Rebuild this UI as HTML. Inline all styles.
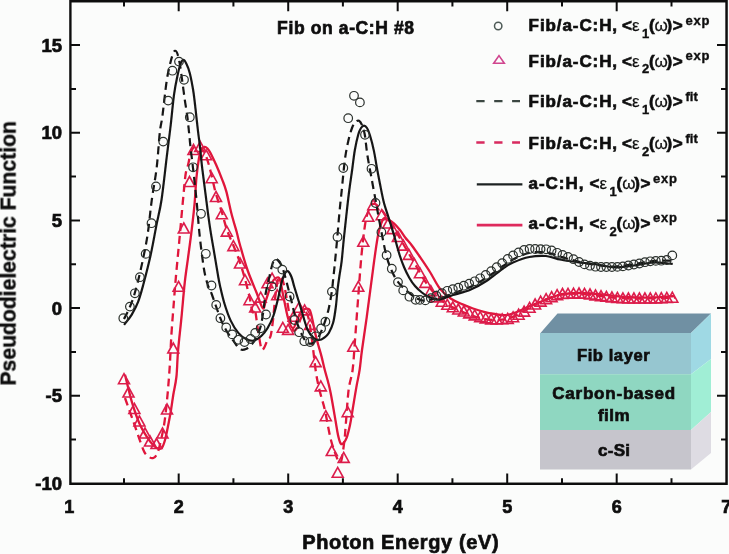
<!DOCTYPE html>
<html><head><meta charset="utf-8"><title>Pseudodielectric Function</title>
<style>html,body{margin:0;padding:0;background:#fbfcfb;overflow:hidden}svg{display:block}</style>
</head><body>
<svg width="729" height="554" viewBox="0 0 729 554">
<rect x="0" y="0" width="729" height="554" fill="#fbfcfb"/>
<defs><filter id="soft" x="-2%" y="-2%" width="104%" height="104%"><feGaussianBlur stdDeviation="0.3"/></filter></defs>
<g filter="url(#soft)">
<polygon points="540.5,333 557.5,313.5 711,313.5 691,333" fill="#7090a3"/>
<rect x="540" y="333" width="151" height="41.2" fill="#96c6d0"/>
<rect x="540" y="374.2" width="151" height="55.8" fill="#8fd7c1"/>
<rect x="540" y="430" width="151" height="39.5" fill="#c6c5cc"/>
<polygon points="691,333 711,313.5 711,359 691,374.2" fill="#9fd9e4"/>
<polygon points="691,374.2 711,359 711,412 691,430" fill="#a0eed5"/>
<polygon points="691,430 711,412 711,453 691,469.5" fill="#dedce3"/>
<text x="577" y="360.6" font-size="16.5" font-weight="bold" text-anchor="start" font-family="'Liberation Sans', Arial, Helvetica, sans-serif" textLength="72.6" lengthAdjust="spacing" fill="#111" stroke="#111" stroke-width="0.7" >Fib layer</text>
<text x="552.2" y="398.8" font-size="17" font-weight="bold" text-anchor="start" font-family="'Liberation Sans', Arial, Helvetica, sans-serif" textLength="123" lengthAdjust="spacing" fill="#111" stroke="#111" stroke-width="0.7" >Carbon-based</text>
<text x="598" y="420.7" font-size="17" font-weight="bold" text-anchor="start" font-family="'Liberation Sans', Arial, Helvetica, sans-serif" textLength="31.5" lengthAdjust="spacing" fill="#111" stroke="#111" stroke-width="0.7" >film</text>
<text x="598" y="456" font-size="17" font-weight="bold" text-anchor="start" font-family="'Liberation Sans', Arial, Helvetica, sans-serif" textLength="32" lengthAdjust="spacing" fill="#111" stroke="#111" stroke-width="0.7" >c-Si</text>
<path d="M125.0,374.7 C126.1,379.1 129.2,393.0 131.7,401.3 C134.2,409.6 136.9,418.0 140.0,424.7 C143.1,431.4 147.2,437.4 150.0,441.3 C152.8,445.2 154.8,446.9 156.7,448.0 C158.6,449.1 160.3,449.3 161.7,448.0 C163.1,446.7 163.9,443.9 165.0,440.0 C166.1,436.1 167.3,429.7 168.3,424.7 C169.3,419.7 170.2,415.0 171.0,410.0 C171.8,405.0 172.4,400.2 173.3,394.7 C174.2,389.2 175.6,384.2 176.4,377.0 C177.2,369.8 177.2,361.2 178.0,351.4 C178.8,341.6 180.3,329.6 181.4,318.2 C182.5,306.8 183.6,293.0 184.7,283.0 C185.8,273.0 186.9,266.4 188.0,258.1 C189.1,249.8 190.2,242.3 191.3,233.2 C192.4,224.1 193.8,212.5 194.6,203.3 C195.4,194.1 195.7,185.6 196.4,178.0 C197.1,170.4 198.2,162.8 199.0,158.0 C199.8,153.2 200.6,151.4 201.5,149.5 C202.4,147.6 203.5,147.0 204.5,146.8 C205.5,146.6 206.5,147.5 207.5,148.5 C208.5,149.5 209.1,150.3 210.5,153.0 C211.9,155.7 214.1,160.3 216.1,164.8 C218.1,169.3 220.7,175.7 222.4,180.1 C224.1,184.5 224.8,185.9 226.3,191.4 C227.8,196.9 229.6,206.2 231.3,213.0 C233.0,219.8 235.2,226.7 236.7,232.0 C238.1,237.3 238.2,238.7 240.0,245.0 C241.8,251.3 244.7,262.0 247.5,270.0 C250.3,278.0 254.1,286.6 256.7,293.0 C259.3,299.4 261.3,307.1 262.9,308.3 C264.4,309.5 264.5,304.2 266.0,300.0 C267.5,295.8 270.1,286.7 271.8,283.0 C273.5,279.3 274.7,278.6 276.0,278.0 C277.3,277.4 278.6,276.4 279.8,279.2 C281.0,282.0 281.7,288.5 283.1,295.0 C284.5,301.5 286.4,312.5 288.0,318.0 C289.6,323.5 291.4,327.9 292.9,328.2 C294.4,328.5 295.6,322.7 297.0,320.0 C298.4,317.3 299.5,313.8 301.0,311.9 C302.5,310.0 304.4,309.0 305.9,308.7 C307.4,308.4 308.7,308.1 309.8,310.0 C310.9,311.9 311.7,316.4 312.5,320.0 C313.3,323.6 313.9,327.5 314.8,331.5 C315.7,335.5 316.9,339.9 318.0,344.0 C319.1,348.1 320.4,352.1 321.5,356.4 C322.6,360.7 323.7,365.7 324.8,370.0 C325.9,374.3 327.1,378.0 328.1,382.0 C329.1,386.0 329.5,387.2 330.8,393.8 C332.1,400.4 334.5,414.8 335.7,421.7 C336.9,428.6 337.2,431.4 338.0,435.0 C338.8,438.6 339.8,442.2 340.7,443.5 C341.6,444.8 342.5,444.0 343.5,443.0 C344.5,442.0 345.6,440.6 346.7,437.6 C347.8,434.6 349.0,429.6 350.0,425.0 C351.0,420.4 351.5,416.2 352.6,409.7 C353.7,403.2 355.4,392.5 356.6,385.9 C357.8,379.3 358.7,376.0 359.6,370.0 C360.5,364.0 360.8,358.8 362.0,350.0 C363.2,341.2 364.8,331.1 366.7,317.3 C368.6,303.5 371.4,281.2 373.3,267.3 C375.2,253.4 376.6,242.1 378.3,234.0 C380.0,225.9 381.7,221.4 383.3,219.0 C384.9,216.6 386.2,218.8 388.0,219.5 C389.8,220.2 391.9,221.6 393.9,223.3 C395.9,225.1 398.1,227.6 400.0,230.0 C401.9,232.4 403.5,235.2 405.4,237.7 C407.3,240.2 409.1,241.8 411.5,245.0 C413.9,248.2 416.9,252.5 420.0,257.0 C423.1,261.5 426.7,266.7 430.0,272.0 C433.3,277.3 436.5,284.4 440.0,288.8 C443.5,293.2 447.3,296.1 451.0,298.7 C454.7,301.2 458.3,302.5 462.0,304.1 C465.7,305.7 469.4,307.2 473.0,308.5 C476.6,309.8 480.2,310.9 483.9,311.8 C487.5,312.7 491.2,313.4 494.9,314.0 C498.6,314.6 502.2,315.4 505.9,315.1 C509.5,314.8 512.8,313.5 516.8,312.0 C520.8,310.5 525.7,307.8 530.0,306.0 C534.3,304.2 537.8,302.8 542.7,301.0 C547.6,299.2 553.2,296.3 559.3,295.0 C565.4,293.7 572.1,293.1 579.3,293.0 C586.5,292.9 594.9,293.8 602.7,294.5 C610.5,295.2 617.7,296.5 626.0,297.0 C634.3,297.5 644.7,297.7 652.7,297.5 C660.8,297.3 670.7,296.2 674.3,296.0" fill="none" stroke="#e0143a" stroke-width="2.3" stroke-linejoin="round"/>
<path d="M125.0,398.0 C126.4,401.9 130.2,412.7 133.3,421.3 C136.4,429.9 140.8,443.8 143.3,449.7 C145.8,455.6 146.8,455.1 148.5,456.5 C150.2,457.9 151.8,458.6 153.3,458.0 C154.8,457.4 156.2,456.0 157.5,453.0 C158.8,450.0 159.8,445.2 161.0,440.0 C162.2,434.8 163.4,429.5 164.5,422.0 C165.6,414.5 166.7,403.7 167.5,395.0 C168.3,386.3 168.8,380.0 169.5,370.0 C170.2,360.0 170.7,346.2 171.4,334.8 C172.1,323.4 173.1,312.2 173.9,301.6 C174.7,291.0 175.4,282.2 176.4,271.4 C177.4,260.5 178.6,248.4 179.7,236.5 C180.8,224.6 182.0,210.2 183.0,200.0 C184.0,189.8 184.7,180.9 185.5,175.0 C186.3,169.1 187.2,168.6 188.1,164.8 C189.0,161.0 189.9,155.0 191.0,152.0 C192.1,149.0 193.5,147.4 194.8,146.6 C196.1,145.8 197.5,146.2 199.0,147.0 C200.5,147.8 202.5,149.0 204.0,151.5 C205.5,154.0 206.7,157.9 208.0,162.0 C209.3,166.1 210.4,170.7 211.7,176.0 C213.0,181.3 214.3,188.0 216.0,194.0 C217.7,200.0 220.0,206.1 221.8,212.0 C223.6,217.9 224.9,223.9 226.8,229.5 C228.7,235.1 231.2,240.0 233.4,245.5 C235.6,251.0 238.1,256.9 240.0,262.5 C241.9,268.1 243.4,273.2 245.0,279.0 C246.6,284.8 248.2,291.5 249.5,297.0 C250.8,302.5 251.6,309.8 252.5,312.0 C253.4,314.2 254.1,307.0 255.0,310.0 C255.9,313.0 256.9,323.6 258.0,330.0 C259.1,336.4 260.3,345.2 261.3,348.2 C262.3,351.2 263.0,349.4 264.0,348.0 C265.0,346.6 266.4,342.0 267.5,340.0 C268.6,338.0 269.7,339.3 270.6,336.0 C271.5,332.7 272.2,326.8 273.0,320.0 C273.8,313.2 274.7,301.7 275.5,295.0 C276.3,288.3 277.1,283.0 278.0,280.0 C278.9,277.0 280.0,276.2 281.0,277.0 C282.0,277.8 283.0,281.2 284.0,285.0 C285.0,288.8 286.0,294.5 287.0,300.0 C288.0,305.5 289.0,313.0 290.0,318.0 C291.0,323.0 291.8,328.3 293.0,330.0 C294.2,331.7 295.7,330.0 297.0,328.0 C298.3,326.0 299.7,320.7 301.0,318.0 C302.3,315.3 303.8,312.0 305.0,312.0 C306.2,312.0 307.3,313.3 308.5,318.0 C309.7,322.7 310.8,331.0 312.0,340.0 C313.2,349.0 314.6,363.3 315.9,372.0 C317.2,380.7 318.5,385.7 320.0,392.0 C321.5,398.3 323.0,401.8 324.8,409.7 C326.6,417.6 328.8,431.6 330.8,439.5 C332.8,447.4 335.3,453.6 336.7,457.4 C338.1,461.1 338.2,461.6 339.0,462.0 C339.8,462.4 340.6,463.7 341.5,460.0 C342.4,456.3 343.8,445.7 344.5,440.0 C345.2,434.3 345.0,434.0 345.7,425.6 C346.4,417.2 347.5,399.2 348.6,389.9 C349.8,380.6 351.5,378.3 352.6,370.0 C353.7,361.7 354.1,351.7 355.0,340.0 C355.9,328.3 356.9,314.2 358.0,300.0 C359.1,285.8 360.3,267.5 361.5,255.0 C362.7,242.5 363.9,232.2 365.0,225.0 C366.1,217.8 366.9,215.3 368.0,212.0 C369.1,208.7 370.3,206.3 371.5,205.0 C372.7,203.7 373.6,203.5 375.0,204.0 C376.4,204.5 378.2,206.0 380.0,208.0 C381.8,210.0 383.5,212.3 386.0,216.0 C388.5,219.7 391.8,224.8 395.0,230.0 C398.2,235.2 401.7,241.3 405.0,247.0 C408.3,252.7 411.7,258.3 415.0,264.0 C418.3,269.7 421.7,276.0 425.0,281.0 C428.3,286.0 431.7,290.3 435.0,294.0 C438.3,297.7 441.7,300.6 445.0,303.0 C448.3,305.4 451.4,306.8 455.0,308.5 C458.6,310.2 462.5,311.9 466.7,313.5 C470.9,315.1 475.6,316.9 480.0,318.0 C484.4,319.1 488.9,319.8 493.3,320.0 C497.8,320.2 502.2,320.1 506.7,319.0 C511.1,317.9 515.6,315.8 520.0,313.5 C524.4,311.2 528.9,307.9 533.3,305.5 C537.7,303.1 541.6,300.9 546.6,299.0 C551.6,297.1 557.7,294.9 563.2,294.0 C568.7,293.1 574.3,293.6 579.8,293.8 C585.3,294.1 590.9,294.9 596.4,295.5 C601.9,296.1 607.5,297.0 613.0,297.5 C618.5,298.0 624.1,298.3 629.6,298.5 C635.1,298.7 638.6,298.7 646.2,298.5 C653.8,298.3 670.2,297.7 675.0,297.5" fill="none" stroke="#e0143a" stroke-width="2.3" stroke-linejoin="round" stroke-dasharray="8,5"/>
<path d="M124.0,373.7 L129.5,383.7 L118.5,383.7 Z" fill="none" stroke="#dc1e4c" stroke-width="1.6" stroke-linejoin="miter"/>
<path d="M128.5,387.0 L134.0,397.0 L123.0,397.0 Z" fill="none" stroke="#dc1e4c" stroke-width="1.6" stroke-linejoin="miter"/>
<path d="M134.4,403.5 L139.9,413.5 L128.9,413.5 Z" fill="none" stroke="#dc1e4c" stroke-width="1.6" stroke-linejoin="miter"/>
<path d="M139.4,416.0 L144.9,426.0 L133.9,426.0 Z" fill="none" stroke="#dc1e4c" stroke-width="1.6" stroke-linejoin="miter"/>
<path d="M145.0,428.0 L150.5,438.0 L139.5,438.0 Z" fill="none" stroke="#dc1e4c" stroke-width="1.6" stroke-linejoin="miter"/>
<path d="M150.0,436.0 L155.5,446.0 L144.5,446.0 Z" fill="none" stroke="#dc1e4c" stroke-width="1.6" stroke-linejoin="miter"/>
<path d="M156.5,438.5 L162.0,448.5 L151.0,448.5 Z" fill="none" stroke="#dc1e4c" stroke-width="1.6" stroke-linejoin="miter"/>
<path d="M162.5,428.0 L168.0,438.0 L157.0,438.0 Z" fill="none" stroke="#dc1e4c" stroke-width="1.6" stroke-linejoin="miter"/>
<path d="M167.0,404.0 L172.5,414.0 L161.5,414.0 Z" fill="none" stroke="#dc1e4c" stroke-width="1.6" stroke-linejoin="miter"/>
<path d="M173.3,343.0 L178.8,353.0 L167.8,353.0 Z" fill="none" stroke="#dc1e4c" stroke-width="1.6" stroke-linejoin="miter"/>
<path d="M178.6,281.3 L184.1,291.3 L173.1,291.3 Z" fill="none" stroke="#dc1e4c" stroke-width="1.6" stroke-linejoin="miter"/>
<path d="M183.8,223.0 L189.3,233.0 L178.3,233.0 Z" fill="none" stroke="#dc1e4c" stroke-width="1.6" stroke-linejoin="miter"/>
<path d="M189.5,176.5 L195.0,186.5 L184.0,186.5 Z" fill="none" stroke="#dc1e4c" stroke-width="1.6" stroke-linejoin="miter"/>
<path d="M193.5,144.5 L199.0,154.5 L188.0,154.5 Z" fill="none" stroke="#dc1e4c" stroke-width="1.6" stroke-linejoin="miter"/>
<path d="M200.2,141.5 L205.7,151.5 L194.7,151.5 Z" fill="none" stroke="#dc1e4c" stroke-width="1.6" stroke-linejoin="miter"/>
<path d="M206.2,149.8 L211.7,159.8 L200.7,159.8 Z" fill="none" stroke="#dc1e4c" stroke-width="1.6" stroke-linejoin="miter"/>
<path d="M211.7,172.7 L217.2,182.7 L206.2,182.7 Z" fill="none" stroke="#dc1e4c" stroke-width="1.6" stroke-linejoin="miter"/>
<path d="M216.0,191.5 L221.5,201.5 L210.5,201.5 Z" fill="none" stroke="#dc1e4c" stroke-width="1.6" stroke-linejoin="miter"/>
<path d="M221.8,208.8 L227.3,218.8 L216.3,218.8 Z" fill="none" stroke="#dc1e4c" stroke-width="1.6" stroke-linejoin="miter"/>
<path d="M226.8,226.1 L232.3,236.1 L221.3,236.1 Z" fill="none" stroke="#dc1e4c" stroke-width="1.6" stroke-linejoin="miter"/>
<path d="M233.4,240.6 L238.9,250.6 L227.9,250.6 Z" fill="none" stroke="#dc1e4c" stroke-width="1.6" stroke-linejoin="miter"/>
<path d="M240.0,258.0 L245.5,268.0 L234.5,268.0 Z" fill="none" stroke="#dc1e4c" stroke-width="1.6" stroke-linejoin="miter"/>
<path d="M245.0,274.7 L250.5,284.7 L239.5,284.7 Z" fill="none" stroke="#dc1e4c" stroke-width="1.6" stroke-linejoin="miter"/>
<path d="M249.5,294.7 L255.0,304.7 L244.0,304.7 Z" fill="none" stroke="#dc1e4c" stroke-width="1.6" stroke-linejoin="miter"/>
<path d="M255.2,302.0 L260.7,312.0 L249.7,312.0 Z" fill="none" stroke="#dc1e4c" stroke-width="1.6" stroke-linejoin="miter"/>
<path d="M260.7,292.1 L266.2,302.1 L255.2,302.1 Z" fill="none" stroke="#dc1e4c" stroke-width="1.6" stroke-linejoin="miter"/>
<path d="M267.5,277.8 L273.0,287.8 L262.0,287.8 Z" fill="none" stroke="#dc1e4c" stroke-width="1.6" stroke-linejoin="miter"/>
<path d="M272.1,273.2 L277.6,283.2 L266.6,283.2 Z" fill="none" stroke="#dc1e4c" stroke-width="1.6" stroke-linejoin="miter"/>
<path d="M277.2,289.7 L282.7,299.7 L271.7,299.7 Z" fill="none" stroke="#dc1e4c" stroke-width="1.6" stroke-linejoin="miter"/>
<path d="M282.8,322.3 L288.3,332.3 L277.3,332.3 Z" fill="none" stroke="#dc1e4c" stroke-width="1.6" stroke-linejoin="miter"/>
<path d="M288.1,324.4 L293.6,334.4 L282.6,334.4 Z" fill="none" stroke="#dc1e4c" stroke-width="1.6" stroke-linejoin="miter"/>
<path d="M293.6,311.2 L299.1,321.2 L288.1,321.2 Z" fill="none" stroke="#dc1e4c" stroke-width="1.6" stroke-linejoin="miter"/>
<path d="M299.1,302.2 L304.6,312.2 L293.6,312.2 Z" fill="none" stroke="#dc1e4c" stroke-width="1.6" stroke-linejoin="miter"/>
<path d="M304.6,304.9 L310.1,314.9 L299.1,314.9 Z" fill="none" stroke="#dc1e4c" stroke-width="1.6" stroke-linejoin="miter"/>
<path d="M310.1,319.4 L315.6,329.4 L304.6,329.4 Z" fill="none" stroke="#dc1e4c" stroke-width="1.6" stroke-linejoin="miter"/>
<path d="M315.6,356.6 L321.1,366.6 L310.1,366.6 Z" fill="none" stroke="#dc1e4c" stroke-width="1.6" stroke-linejoin="miter"/>
<path d="M320.8,380.9 L326.3,390.9 L315.3,390.9 Z" fill="none" stroke="#dc1e4c" stroke-width="1.6" stroke-linejoin="miter"/>
<path d="M325.8,410.7 L331.3,420.7 L320.3,420.7 Z" fill="none" stroke="#dc1e4c" stroke-width="1.6" stroke-linejoin="miter"/>
<path d="M331.8,445.5 L337.3,455.5 L326.3,455.5 Z" fill="none" stroke="#dc1e4c" stroke-width="1.6" stroke-linejoin="miter"/>
<path d="M337.7,467.3 L343.2,477.3 L332.2,477.3 Z" fill="none" stroke="#dc1e4c" stroke-width="1.6" stroke-linejoin="miter"/>
<path d="M343.7,452.4 L349.2,462.4 L338.2,462.4 Z" fill="none" stroke="#dc1e4c" stroke-width="1.6" stroke-linejoin="miter"/>
<path d="M347.7,406.7 L353.2,416.7 L342.2,416.7 Z" fill="none" stroke="#dc1e4c" stroke-width="1.6" stroke-linejoin="miter"/>
<path d="M353.3,341.3 L358.8,351.3 L347.8,351.3 Z" fill="none" stroke="#dc1e4c" stroke-width="1.6" stroke-linejoin="miter"/>
<path d="M358.3,281.3 L363.8,291.3 L352.8,291.3 Z" fill="none" stroke="#dc1e4c" stroke-width="1.6" stroke-linejoin="miter"/>
<path d="M363.3,236.3 L368.8,246.3 L357.8,246.3 Z" fill="none" stroke="#dc1e4c" stroke-width="1.6" stroke-linejoin="miter"/>
<path d="M368.3,211.3 L373.8,221.3 L362.8,221.3 Z" fill="none" stroke="#dc1e4c" stroke-width="1.6" stroke-linejoin="miter"/>
<path d="M373.3,199.7 L378.8,209.7 L367.8,209.7 Z" fill="none" stroke="#dc1e4c" stroke-width="1.6" stroke-linejoin="miter"/>
<path d="M381.7,209.7 L387.2,219.7 L376.2,219.7 Z" fill="none" stroke="#dc1e4c" stroke-width="1.6" stroke-linejoin="miter"/>
<path d="M388.3,218.0 L393.8,228.0 L382.8,228.0 Z" fill="none" stroke="#dc1e4c" stroke-width="1.6" stroke-linejoin="miter"/>
<path d="M392.4,223.6 L397.9,233.6 L386.9,233.6 Z" fill="none" stroke="#dc1e4c" stroke-width="1.6" stroke-linejoin="miter"/>
<path d="M397.9,231.5 L403.4,241.5 L392.4,241.5 Z" fill="none" stroke="#dc1e4c" stroke-width="1.6" stroke-linejoin="miter"/>
<path d="M403.4,240.1 L408.9,250.1 L397.9,250.1 Z" fill="none" stroke="#dc1e4c" stroke-width="1.6" stroke-linejoin="miter"/>
<path d="M408.9,249.4 L414.4,259.4 L403.4,259.4 Z" fill="none" stroke="#dc1e4c" stroke-width="1.6" stroke-linejoin="miter"/>
<path d="M414.4,258.6 L419.9,268.6 L408.9,268.6 Z" fill="none" stroke="#dc1e4c" stroke-width="1.6" stroke-linejoin="miter"/>
<path d="M419.9,267.8 L425.4,277.8 L414.4,277.8 Z" fill="none" stroke="#dc1e4c" stroke-width="1.6" stroke-linejoin="miter"/>
<path d="M425.3,277.4 L430.8,287.4 L419.8,287.4 Z" fill="none" stroke="#dc1e4c" stroke-width="1.6" stroke-linejoin="miter"/>
<path d="M430.8,285.7 L436.3,295.7 L425.3,295.7 Z" fill="none" stroke="#dc1e4c" stroke-width="1.6" stroke-linejoin="miter"/>
<path d="M436.3,291.9 L441.8,301.9 L430.8,301.9 Z" fill="none" stroke="#dc1e4c" stroke-width="1.6" stroke-linejoin="miter"/>
<path d="M441.8,296.2 L447.3,306.2 L436.3,306.2 Z" fill="none" stroke="#dc1e4c" stroke-width="1.6" stroke-linejoin="miter"/>
<path d="M447.3,299.3 L452.8,309.3 L441.8,309.3 Z" fill="none" stroke="#dc1e4c" stroke-width="1.6" stroke-linejoin="miter"/>
<path d="M452.8,301.8 L458.3,311.8 L447.3,311.8 Z" fill="none" stroke="#dc1e4c" stroke-width="1.6" stroke-linejoin="miter"/>
<path d="M458.3,304.0 L463.8,314.0 L452.8,314.0 Z" fill="none" stroke="#dc1e4c" stroke-width="1.6" stroke-linejoin="miter"/>
<path d="M463.8,306.0 L469.3,316.0 L458.3,316.0 Z" fill="none" stroke="#dc1e4c" stroke-width="1.6" stroke-linejoin="miter"/>
<path d="M469.2,307.9 L474.7,317.9 L463.7,317.9 Z" fill="none" stroke="#dc1e4c" stroke-width="1.6" stroke-linejoin="miter"/>
<path d="M474.7,309.9 L480.2,319.9 L469.2,319.9 Z" fill="none" stroke="#dc1e4c" stroke-width="1.6" stroke-linejoin="miter"/>
<path d="M480.2,311.6 L485.7,321.6 L474.7,321.6 Z" fill="none" stroke="#dc1e4c" stroke-width="1.6" stroke-linejoin="miter"/>
<path d="M485.7,312.9 L491.2,322.9 L480.2,322.9 Z" fill="none" stroke="#dc1e4c" stroke-width="1.6" stroke-linejoin="miter"/>
<path d="M491.2,313.9 L496.7,323.9 L485.7,323.9 Z" fill="none" stroke="#dc1e4c" stroke-width="1.6" stroke-linejoin="miter"/>
<path d="M496.7,314.0 L502.2,324.0 L491.2,324.0 Z" fill="none" stroke="#dc1e4c" stroke-width="1.6" stroke-linejoin="miter"/>
<path d="M502.2,313.8 L507.7,323.8 L496.7,323.8 Z" fill="none" stroke="#dc1e4c" stroke-width="1.6" stroke-linejoin="miter"/>
<path d="M507.7,313.4 L513.2,323.4 L502.2,323.4 Z" fill="none" stroke="#dc1e4c" stroke-width="1.6" stroke-linejoin="miter"/>
<path d="M513.1,311.8 L518.6,321.8 L507.6,321.8 Z" fill="none" stroke="#dc1e4c" stroke-width="1.6" stroke-linejoin="miter"/>
<path d="M518.6,309.2 L524.1,319.2 L513.1,319.2 Z" fill="none" stroke="#dc1e4c" stroke-width="1.6" stroke-linejoin="miter"/>
<path d="M524.1,306.1 L529.6,316.1 L518.6,316.1 Z" fill="none" stroke="#dc1e4c" stroke-width="1.6" stroke-linejoin="miter"/>
<path d="M529.6,302.3 L535.1,312.3 L524.1,312.3 Z" fill="none" stroke="#dc1e4c" stroke-width="1.6" stroke-linejoin="miter"/>
<path d="M535.1,299.0 L540.6,309.0 L529.6,309.0 Z" fill="none" stroke="#dc1e4c" stroke-width="1.6" stroke-linejoin="miter"/>
<path d="M540.6,296.1 L546.1,306.1 L535.1,306.1 Z" fill="none" stroke="#dc1e4c" stroke-width="1.6" stroke-linejoin="miter"/>
<path d="M546.1,293.7 L551.6,303.7 L540.6,303.7 Z" fill="none" stroke="#dc1e4c" stroke-width="1.6" stroke-linejoin="miter"/>
<path d="M551.6,291.6 L557.1,301.6 L546.1,301.6 Z" fill="none" stroke="#dc1e4c" stroke-width="1.6" stroke-linejoin="miter"/>
<path d="M557.1,289.6 L562.6,299.6 L551.6,299.6 Z" fill="none" stroke="#dc1e4c" stroke-width="1.6" stroke-linejoin="miter"/>
<path d="M562.5,288.5 L568.0,298.5 L557.0,298.5 Z" fill="none" stroke="#dc1e4c" stroke-width="1.6" stroke-linejoin="miter"/>
<path d="M568.0,288.3 L573.5,298.3 L562.5,298.3 Z" fill="none" stroke="#dc1e4c" stroke-width="1.6" stroke-linejoin="miter"/>
<path d="M573.5,288.1 L579.0,298.1 L568.0,298.1 Z" fill="none" stroke="#dc1e4c" stroke-width="1.6" stroke-linejoin="miter"/>
<path d="M579.0,288.0 L584.5,298.0 L573.5,298.0 Z" fill="none" stroke="#dc1e4c" stroke-width="1.6" stroke-linejoin="miter"/>
<path d="M584.5,288.3 L590.0,298.3 L579.0,298.3 Z" fill="none" stroke="#dc1e4c" stroke-width="1.6" stroke-linejoin="miter"/>
<path d="M590.0,289.0 L595.5,299.0 L584.5,299.0 Z" fill="none" stroke="#dc1e4c" stroke-width="1.6" stroke-linejoin="miter"/>
<path d="M595.5,289.9 L601.0,299.9 L590.0,299.9 Z" fill="none" stroke="#dc1e4c" stroke-width="1.6" stroke-linejoin="miter"/>
<path d="M601.0,290.6 L606.5,300.6 L595.5,300.6 Z" fill="none" stroke="#dc1e4c" stroke-width="1.6" stroke-linejoin="miter"/>
<path d="M606.4,291.3 L611.9,301.3 L600.9,301.3 Z" fill="none" stroke="#dc1e4c" stroke-width="1.6" stroke-linejoin="miter"/>
<path d="M611.9,291.9 L617.4,301.9 L606.4,301.9 Z" fill="none" stroke="#dc1e4c" stroke-width="1.6" stroke-linejoin="miter"/>
<path d="M617.4,292.4 L622.9,302.4 L611.9,302.4 Z" fill="none" stroke="#dc1e4c" stroke-width="1.6" stroke-linejoin="miter"/>
<path d="M622.9,292.8 L628.4,302.8 L617.4,302.8 Z" fill="none" stroke="#dc1e4c" stroke-width="1.6" stroke-linejoin="miter"/>
<path d="M628.4,293.0 L633.9,303.0 L622.9,303.0 Z" fill="none" stroke="#dc1e4c" stroke-width="1.6" stroke-linejoin="miter"/>
<path d="M633.9,293.0 L639.4,303.0 L628.4,303.0 Z" fill="none" stroke="#dc1e4c" stroke-width="1.6" stroke-linejoin="miter"/>
<path d="M639.4,293.0 L644.9,303.0 L633.9,303.0 Z" fill="none" stroke="#dc1e4c" stroke-width="1.6" stroke-linejoin="miter"/>
<path d="M644.9,293.0 L650.4,303.0 L639.4,303.0 Z" fill="none" stroke="#dc1e4c" stroke-width="1.6" stroke-linejoin="miter"/>
<path d="M650.3,293.0 L655.8,303.0 L644.8,303.0 Z" fill="none" stroke="#dc1e4c" stroke-width="1.6" stroke-linejoin="miter"/>
<path d="M655.8,292.9 L661.3,302.9 L650.3,302.9 Z" fill="none" stroke="#dc1e4c" stroke-width="1.6" stroke-linejoin="miter"/>
<path d="M661.3,292.7 L666.8,302.7 L655.8,302.7 Z" fill="none" stroke="#dc1e4c" stroke-width="1.6" stroke-linejoin="miter"/>
<path d="M666.8,292.4 L672.3,302.4 L661.3,302.4 Z" fill="none" stroke="#dc1e4c" stroke-width="1.6" stroke-linejoin="miter"/>
<path d="M672.3,292.2 L677.8,302.2 L666.8,302.2 Z" fill="none" stroke="#dc1e4c" stroke-width="1.6" stroke-linejoin="miter"/>
<path d="M124.1,324.8 C125.3,323.1 129.2,318.8 131.6,314.9 C133.9,311.0 136.3,306.6 138.2,301.6 C140.1,296.6 141.1,292.8 143.2,285.0 C145.3,277.2 148.5,264.8 150.7,254.8 C152.9,244.8 154.7,234.0 156.5,224.9 C158.3,215.8 159.8,211.1 161.5,200.0 C163.2,188.9 165.1,170.7 166.6,158.2 C168.1,145.7 169.5,135.6 170.7,125.0 C171.9,114.4 172.9,102.9 174.0,94.8 C175.1,86.7 176.2,81.6 177.3,76.5 C178.4,71.4 179.5,66.8 180.5,64.0 C181.5,61.2 182.5,59.9 183.5,59.9 C184.5,59.9 185.4,61.8 186.5,64.0 C187.6,66.2 188.7,68.9 189.8,73.2 C190.9,77.5 192.1,83.7 193.1,89.8 C194.1,95.9 194.8,102.7 195.6,109.7 C196.4,116.7 197.4,126.1 198.1,132.0 C198.8,137.9 199.1,138.9 199.8,144.9 C200.5,150.9 201.2,159.9 202.2,168.2 C203.2,176.5 204.4,185.2 205.6,194.7 C206.8,204.1 208.2,215.7 209.6,224.9 C210.9,234.1 212.3,241.5 213.7,249.8 C215.1,258.1 216.9,268.8 217.9,274.7 C218.9,280.6 218.8,280.5 219.9,285.3 C221.0,290.1 222.7,297.8 224.5,303.7 C226.3,309.6 228.4,315.7 230.7,320.6 C233.0,325.5 235.8,329.8 238.3,332.9 C240.9,336.0 243.4,337.7 246.0,339.0 C248.6,340.3 251.1,341.1 253.7,340.6 C256.2,340.1 259.0,338.1 261.3,336.0 C263.6,333.9 265.5,331.7 267.5,328.3 C269.5,324.9 271.7,320.6 273.5,315.5 C275.3,310.4 276.9,303.4 278.2,298.0 C279.5,292.6 280.4,287.0 281.5,283.0 C282.6,279.0 283.4,275.9 284.5,274.0 C285.6,272.1 286.8,270.8 288.0,271.3 C289.2,271.8 290.4,274.3 291.5,277.0 C292.6,279.7 292.9,282.2 294.5,287.5 C296.1,292.8 298.8,301.7 301.0,308.7 C303.2,315.7 305.3,324.6 307.5,329.5 C309.7,334.4 312.1,336.6 314.0,338.3 C315.9,340.1 317.3,340.1 319.0,340.0 C320.7,339.9 322.4,339.0 324.0,337.8 C325.6,336.6 327.3,335.6 328.8,333.0 C330.3,330.4 332.0,326.9 333.2,322.5 C334.4,318.1 335.2,311.7 335.9,306.3 C336.6,300.9 336.9,295.1 337.5,290.0 C338.1,284.9 338.7,280.7 339.4,276.0 C340.1,271.3 340.9,267.7 341.6,261.7 C342.3,255.7 342.9,247.9 343.7,240.0 C344.5,232.1 345.6,222.3 346.5,214.0 C347.4,205.7 348.3,197.7 349.3,190.0 C350.3,182.3 351.5,174.7 352.4,168.0 C353.3,161.3 353.9,155.2 354.9,149.7 C355.9,144.2 357.2,138.4 358.2,134.8 C359.2,131.2 360.0,129.5 361.0,128.0 C362.0,126.5 363.0,125.6 364.0,125.6 C365.0,125.6 366.0,126.5 367.0,128.0 C368.0,129.5 368.6,130.9 369.8,134.8 C371.0,138.7 372.8,145.5 374.0,151.4 C375.2,157.3 376.3,164.6 377.3,170.0 C378.3,175.4 378.9,178.5 380.0,184.0 C381.1,189.5 382.6,197.7 384.0,203.0 C385.4,208.3 386.5,210.8 388.1,216.1 C389.8,221.4 392.0,228.3 393.9,234.8 C395.8,241.3 397.9,249.6 399.6,255.0 C401.3,260.4 402.4,263.2 404.0,267.0 C405.6,270.8 407.6,274.8 409.4,278.0 C411.2,281.2 412.9,283.6 415.0,286.0 C417.1,288.4 419.7,290.8 421.9,292.5 C424.1,294.2 425.9,295.5 428.0,296.5 C430.1,297.5 432.3,298.2 434.3,298.7 C436.3,299.2 436.9,300.1 440.0,299.5 C443.1,298.9 448.0,296.6 453.0,295.0 C458.0,293.4 464.2,292.3 469.8,290.0 C475.4,287.7 480.9,284.6 486.4,281.0 C491.9,277.4 498.6,271.6 503.0,268.5 C507.4,265.4 508.6,264.4 513.0,262.5 C517.4,260.6 523.9,258.1 529.4,257.0 C534.9,255.9 540.9,255.6 546.0,256.0 C551.1,256.4 555.7,258.6 560.0,259.5 C564.3,260.4 567.8,260.9 572.0,261.5 C576.2,262.1 580.3,262.4 585.0,263.0 C589.7,263.6 595.0,264.2 600.0,265.0 C605.0,265.8 609.3,267.4 615.0,267.5 C620.7,267.6 627.7,266.3 634.0,265.5 C640.3,264.7 647.3,262.8 653.0,262.5 C658.7,262.2 664.7,263.2 668.0,263.5 C671.3,263.8 671.9,263.9 672.7,264.0" fill="none" stroke="#161616" stroke-width="2.2" stroke-linejoin="round"/>
<path d="M124.0,319.0 C124.8,317.3 127.2,313.2 129.0,309.0 C130.8,304.8 132.6,300.6 134.5,294.0 C136.4,287.4 138.6,279.3 140.7,269.7 C142.8,260.1 145.5,247.9 147.3,236.5 C149.1,225.1 150.1,212.7 151.6,201.3 C153.1,189.9 155.2,179.8 156.6,168.2 C158.0,156.6 158.9,140.2 159.9,131.6 C160.9,122.9 161.3,124.6 162.4,116.3 C163.5,108.0 165.3,90.1 166.6,81.5 C167.8,72.9 168.9,69.3 169.9,64.9 C170.9,60.5 171.7,57.4 172.5,55.0 C173.3,52.6 174.1,51.0 174.9,50.8 C175.7,50.6 176.7,51.6 177.5,54.0 C178.3,56.4 179.2,60.4 180.0,65.0 C180.8,69.6 181.5,75.7 182.3,81.5 C183.1,87.3 184.0,94.0 184.8,99.8 C185.6,105.6 186.6,110.9 187.3,116.3 C188.0,121.7 188.4,126.4 189.0,132.0 C189.6,137.6 190.1,144.0 190.8,150.0 C191.5,156.0 192.1,159.7 193.0,168.0 C193.9,176.3 195.4,188.8 196.5,200.0 C197.6,211.2 198.4,223.6 199.6,234.9 C200.8,246.2 202.5,259.8 203.8,268.0 C205.1,276.2 206.2,279.7 207.5,284.0 C208.8,288.3 209.6,288.4 211.7,294.0 C213.8,299.6 217.6,311.3 220.0,317.3 C222.4,323.3 223.8,326.1 226.0,330.0 C228.2,333.9 231.0,337.5 233.3,340.7 C235.6,343.9 237.8,347.6 239.9,349.0 C242.0,350.4 244.0,349.8 246.0,349.0 C248.0,348.2 250.2,346.0 252.0,344.0 C253.8,342.0 255.1,339.9 256.5,337.0 C257.9,334.1 259.5,330.8 260.7,326.3 C261.9,321.8 262.7,315.5 263.5,310.0 C264.3,304.5 264.6,299.1 265.7,293.2 C266.8,287.3 268.7,279.8 269.8,274.9 C270.9,270.0 271.6,266.6 272.5,264.0 C273.4,261.4 274.0,259.6 275.0,259.1 C276.0,258.6 277.1,259.2 278.5,261.0 C279.9,262.8 281.1,263.6 283.1,269.6 C285.1,275.7 288.3,288.9 290.5,297.3 C292.7,305.7 294.1,313.5 296.1,320.0 C298.1,326.5 300.8,332.5 302.7,336.3 C304.6,340.1 305.8,341.7 307.5,342.8 C309.2,343.9 311.2,344.0 313.0,343.0 C314.8,342.0 316.7,340.0 318.5,337.0 C320.3,334.0 322.1,329.6 323.8,324.9 C325.5,320.2 327.4,314.4 328.7,308.7 C330.0,303.0 331.1,296.2 331.9,290.8 C332.7,285.4 332.9,281.2 333.5,276.1 C334.1,271.0 334.6,266.4 335.2,259.9 C335.8,253.4 336.6,245.3 337.3,237.3 C338.0,229.3 338.8,219.8 339.5,212.0 C340.2,204.2 340.8,199.4 341.7,190.7 C342.6,182.0 343.8,167.9 344.9,159.7 C346.0,151.5 347.0,146.7 348.2,141.4 C349.4,136.1 350.8,131.2 352.0,128.0 C353.2,124.8 354.3,123.2 355.5,122.0 C356.7,120.8 357.9,120.2 359.0,120.7 C360.1,121.2 361.0,122.7 362.0,125.0 C363.0,127.3 363.9,129.9 364.8,134.8 C365.7,139.8 366.2,147.5 367.3,154.7 C368.4,161.9 370.1,170.1 371.5,178.0 C372.9,185.9 374.7,195.2 376.0,202.3 C377.3,209.4 377.6,212.1 379.3,220.7 C381.0,229.3 383.9,245.7 386.0,254.0 C388.1,262.3 389.6,266.0 391.7,270.7 C393.8,275.4 395.8,279.0 398.3,282.3 C400.8,285.6 403.9,288.2 406.7,290.7 C409.5,293.2 412.2,295.6 415.0,297.3 C417.8,299.0 420.2,300.4 423.3,300.7 C426.4,301.0 430.5,299.4 433.3,299.0 C436.1,298.6 436.7,299.4 440.0,298.5 C443.3,297.6 448.0,295.4 453.0,293.5 C458.0,291.6 464.5,289.6 470.0,287.0 C475.5,284.4 480.5,281.5 486.0,278.0 C491.5,274.5 498.5,269.1 503.0,266.0 C507.5,262.9 508.7,261.7 513.0,259.5 C517.3,257.3 523.5,254.2 529.0,253.0 C534.5,251.8 540.8,251.9 546.0,252.5 C551.2,253.1 555.7,255.2 560.0,256.5 C564.3,257.8 567.8,258.9 572.0,260.0 C576.2,261.1 580.3,262.1 585.0,263.0 C589.7,263.9 595.0,264.9 600.0,265.5 C605.0,266.1 609.3,266.8 615.0,266.5 C620.7,266.2 627.7,264.9 634.0,264.0 C640.3,263.1 646.5,261.6 653.0,261.0 C659.5,260.4 669.4,260.6 672.7,260.5" fill="none" stroke="#161616" stroke-width="2.2" stroke-linejoin="round" stroke-dasharray="8,5"/>
<circle cx="123.3" cy="318.2" r="4.3" fill="none" stroke="#2a302c" stroke-width="1.2"/>
<circle cx="129.9" cy="306.6" r="4.3" fill="none" stroke="#2a302c" stroke-width="1.2"/>
<circle cx="134.9" cy="293.3" r="4.3" fill="none" stroke="#2a302c" stroke-width="1.2"/>
<circle cx="139.9" cy="277.2" r="4.3" fill="none" stroke="#2a302c" stroke-width="1.2"/>
<circle cx="145.7" cy="253.9" r="4.3" fill="none" stroke="#2a302c" stroke-width="1.2"/>
<circle cx="151.5" cy="223.2" r="4.3" fill="none" stroke="#2a302c" stroke-width="1.2"/>
<circle cx="156.0" cy="186.5" r="4.3" fill="none" stroke="#2a302c" stroke-width="1.2"/>
<circle cx="163.2" cy="141.6" r="4.3" fill="none" stroke="#2a302c" stroke-width="1.2"/>
<circle cx="168.2" cy="100.6" r="4.3" fill="none" stroke="#2a302c" stroke-width="1.2"/>
<circle cx="172.4" cy="70.7" r="4.3" fill="none" stroke="#2a302c" stroke-width="1.2"/>
<circle cx="179.0" cy="61.6" r="4.3" fill="none" stroke="#2a302c" stroke-width="1.2"/>
<circle cx="184.0" cy="79.8" r="4.3" fill="none" stroke="#2a302c" stroke-width="1.2"/>
<circle cx="189.8" cy="117.2" r="4.3" fill="none" stroke="#2a302c" stroke-width="1.2"/>
<circle cx="193.1" cy="167.3" r="4.3" fill="none" stroke="#2a302c" stroke-width="1.2"/>
<circle cx="201.0" cy="213.8" r="4.3" fill="none" stroke="#2a302c" stroke-width="1.2"/>
<circle cx="205.8" cy="253.8" r="4.3" fill="none" stroke="#2a302c" stroke-width="1.2"/>
<circle cx="211.5" cy="285.5" r="4.3" fill="none" stroke="#2a302c" stroke-width="1.2"/>
<circle cx="216.2" cy="304.9" r="4.3" fill="none" stroke="#2a302c" stroke-width="1.2"/>
<circle cx="220.4" cy="318.2" r="4.3" fill="none" stroke="#2a302c" stroke-width="1.2"/>
<circle cx="226.2" cy="327.5" r="4.3" fill="none" stroke="#2a302c" stroke-width="1.2"/>
<circle cx="232.2" cy="334.4" r="4.3" fill="none" stroke="#2a302c" stroke-width="1.2"/>
<circle cx="238.3" cy="339.8" r="4.3" fill="none" stroke="#2a302c" stroke-width="1.2"/>
<circle cx="244.5" cy="342.1" r="4.3" fill="none" stroke="#2a302c" stroke-width="1.2"/>
<circle cx="250.6" cy="339.0" r="4.3" fill="none" stroke="#2a302c" stroke-width="1.2"/>
<circle cx="255.2" cy="332.9" r="4.3" fill="none" stroke="#2a302c" stroke-width="1.2"/>
<circle cx="260.6" cy="328.3" r="4.3" fill="none" stroke="#2a302c" stroke-width="1.2"/>
<circle cx="266.0" cy="314.5" r="4.3" fill="none" stroke="#2a302c" stroke-width="1.2"/>
<circle cx="271.7" cy="286.4" r="4.3" fill="none" stroke="#2a302c" stroke-width="1.2"/>
<circle cx="276.6" cy="263.9" r="4.3" fill="none" stroke="#2a302c" stroke-width="1.2"/>
<circle cx="282.3" cy="269.6" r="4.3" fill="none" stroke="#2a302c" stroke-width="1.2"/>
<circle cx="289.6" cy="296.5" r="4.3" fill="none" stroke="#2a302c" stroke-width="1.2"/>
<circle cx="294.5" cy="320.0" r="4.3" fill="none" stroke="#2a302c" stroke-width="1.2"/>
<circle cx="299.1" cy="332.2" r="4.3" fill="none" stroke="#2a302c" stroke-width="1.2"/>
<circle cx="304.3" cy="341.2" r="4.3" fill="none" stroke="#2a302c" stroke-width="1.2"/>
<circle cx="310.1" cy="342.0" r="4.3" fill="none" stroke="#2a302c" stroke-width="1.2"/>
<circle cx="315.6" cy="336.3" r="4.3" fill="none" stroke="#2a302c" stroke-width="1.2"/>
<circle cx="321.1" cy="328.5" r="4.3" fill="none" stroke="#2a302c" stroke-width="1.2"/>
<circle cx="325.4" cy="321.7" r="4.3" fill="none" stroke="#2a302c" stroke-width="1.2"/>
<circle cx="331.9" cy="291.6" r="4.3" fill="none" stroke="#2a302c" stroke-width="1.2"/>
<circle cx="337.5" cy="237.0" r="4.3" fill="none" stroke="#2a302c" stroke-width="1.2"/>
<circle cx="343.3" cy="168.0" r="4.3" fill="none" stroke="#2a302c" stroke-width="1.2"/>
<circle cx="348.2" cy="118.2" r="4.3" fill="none" stroke="#2a302c" stroke-width="1.2"/>
<circle cx="354.0" cy="95.8" r="4.3" fill="none" stroke="#2a302c" stroke-width="1.2"/>
<circle cx="359.9" cy="102.4" r="4.3" fill="none" stroke="#2a302c" stroke-width="1.2"/>
<circle cx="365.0" cy="134.8" r="4.3" fill="none" stroke="#2a302c" stroke-width="1.2"/>
<circle cx="371.5" cy="168.8" r="4.3" fill="none" stroke="#2a302c" stroke-width="1.2"/>
<circle cx="375.5" cy="203.0" r="4.3" fill="none" stroke="#2a302c" stroke-width="1.2"/>
<circle cx="381.4" cy="232.2" r="4.3" fill="none" stroke="#2a302c" stroke-width="1.2"/>
<circle cx="386.6" cy="255.2" r="4.3" fill="none" stroke="#2a302c" stroke-width="1.2"/>
<circle cx="391.8" cy="268.7" r="4.3" fill="none" stroke="#2a302c" stroke-width="1.2"/>
<circle cx="398.0" cy="282.1" r="4.3" fill="none" stroke="#2a302c" stroke-width="1.2"/>
<circle cx="403.2" cy="290.4" r="4.3" fill="none" stroke="#2a302c" stroke-width="1.2"/>
<circle cx="409.4" cy="296.7" r="4.3" fill="none" stroke="#2a302c" stroke-width="1.2"/>
<circle cx="415.6" cy="299.8" r="4.3" fill="none" stroke="#2a302c" stroke-width="1.2"/>
<circle cx="419.9" cy="299.9" r="4.3" fill="none" stroke="#2a302c" stroke-width="1.2"/>
<circle cx="425.3" cy="300.4" r="4.3" fill="none" stroke="#2a302c" stroke-width="1.2"/>
<circle cx="430.8" cy="298.1" r="4.3" fill="none" stroke="#2a302c" stroke-width="1.2"/>
<circle cx="436.3" cy="295.7" r="4.3" fill="none" stroke="#2a302c" stroke-width="1.2"/>
<circle cx="441.8" cy="293.1" r="4.3" fill="none" stroke="#2a302c" stroke-width="1.2"/>
<circle cx="447.3" cy="290.8" r="4.3" fill="none" stroke="#2a302c" stroke-width="1.2"/>
<circle cx="452.8" cy="289.1" r="4.3" fill="none" stroke="#2a302c" stroke-width="1.2"/>
<circle cx="458.3" cy="287.6" r="4.3" fill="none" stroke="#2a302c" stroke-width="1.2"/>
<circle cx="463.8" cy="285.7" r="4.3" fill="none" stroke="#2a302c" stroke-width="1.2"/>
<circle cx="469.2" cy="283.7" r="4.3" fill="none" stroke="#2a302c" stroke-width="1.2"/>
<circle cx="474.7" cy="281.3" r="4.3" fill="none" stroke="#2a302c" stroke-width="1.2"/>
<circle cx="480.2" cy="278.3" r="4.3" fill="none" stroke="#2a302c" stroke-width="1.2"/>
<circle cx="485.7" cy="274.9" r="4.3" fill="none" stroke="#2a302c" stroke-width="1.2"/>
<circle cx="491.2" cy="271.2" r="4.3" fill="none" stroke="#2a302c" stroke-width="1.2"/>
<circle cx="496.7" cy="267.2" r="4.3" fill="none" stroke="#2a302c" stroke-width="1.2"/>
<circle cx="502.2" cy="263.1" r="4.3" fill="none" stroke="#2a302c" stroke-width="1.2"/>
<circle cx="507.7" cy="258.9" r="4.3" fill="none" stroke="#2a302c" stroke-width="1.2"/>
<circle cx="513.1" cy="255.4" r="4.3" fill="none" stroke="#2a302c" stroke-width="1.2"/>
<circle cx="518.6" cy="252.4" r="4.3" fill="none" stroke="#2a302c" stroke-width="1.2"/>
<circle cx="524.1" cy="249.9" r="4.3" fill="none" stroke="#2a302c" stroke-width="1.2"/>
<circle cx="529.6" cy="249.0" r="4.3" fill="none" stroke="#2a302c" stroke-width="1.2"/>
<circle cx="535.1" cy="249.0" r="4.3" fill="none" stroke="#2a302c" stroke-width="1.2"/>
<circle cx="540.6" cy="249.1" r="4.3" fill="none" stroke="#2a302c" stroke-width="1.2"/>
<circle cx="546.1" cy="249.3" r="4.3" fill="none" stroke="#2a302c" stroke-width="1.2"/>
<circle cx="551.6" cy="250.5" r="4.3" fill="none" stroke="#2a302c" stroke-width="1.2"/>
<circle cx="557.1" cy="252.8" r="4.3" fill="none" stroke="#2a302c" stroke-width="1.2"/>
<circle cx="562.5" cy="254.9" r="4.3" fill="none" stroke="#2a302c" stroke-width="1.2"/>
<circle cx="568.0" cy="256.9" r="4.3" fill="none" stroke="#2a302c" stroke-width="1.2"/>
<circle cx="573.5" cy="259.2" r="4.3" fill="none" stroke="#2a302c" stroke-width="1.2"/>
<circle cx="579.0" cy="262.0" r="4.3" fill="none" stroke="#2a302c" stroke-width="1.2"/>
<circle cx="584.5" cy="264.4" r="4.3" fill="none" stroke="#2a302c" stroke-width="1.2"/>
<circle cx="590.0" cy="265.7" r="4.3" fill="none" stroke="#2a302c" stroke-width="1.2"/>
<circle cx="595.5" cy="266.7" r="4.3" fill="none" stroke="#2a302c" stroke-width="1.2"/>
<circle cx="601.0" cy="267.0" r="4.3" fill="none" stroke="#2a302c" stroke-width="1.2"/>
<circle cx="606.4" cy="267.0" r="4.3" fill="none" stroke="#2a302c" stroke-width="1.2"/>
<circle cx="611.9" cy="267.0" r="4.3" fill="none" stroke="#2a302c" stroke-width="1.2"/>
<circle cx="617.4" cy="266.9" r="4.3" fill="none" stroke="#2a302c" stroke-width="1.2"/>
<circle cx="622.9" cy="266.4" r="4.3" fill="none" stroke="#2a302c" stroke-width="1.2"/>
<circle cx="628.4" cy="265.5" r="4.3" fill="none" stroke="#2a302c" stroke-width="1.2"/>
<circle cx="633.9" cy="264.5" r="4.3" fill="none" stroke="#2a302c" stroke-width="1.2"/>
<circle cx="639.4" cy="263.5" r="4.3" fill="none" stroke="#2a302c" stroke-width="1.2"/>
<circle cx="644.9" cy="262.2" r="4.3" fill="none" stroke="#2a302c" stroke-width="1.2"/>
<circle cx="650.3" cy="261.3" r="4.3" fill="none" stroke="#2a302c" stroke-width="1.2"/>
<circle cx="655.8" cy="260.9" r="4.3" fill="none" stroke="#2a302c" stroke-width="1.2"/>
<circle cx="661.3" cy="260.7" r="4.3" fill="none" stroke="#2a302c" stroke-width="1.2"/>
<circle cx="666.8" cy="260.0" r="4.3" fill="none" stroke="#2a302c" stroke-width="1.2"/>
<circle cx="672.3" cy="255.4" r="4.3" fill="none" stroke="#2a302c" stroke-width="1.2"/>
<path d="M69.2,0 H727.8 V485 H69.2 Z M71.6,2.6 V482.6 H725.3 V2.6 Z" fill="#111" fill-rule="evenodd"/>
<path d="M124.0,483 v-4.800000000000001 M124.0,2 v4.4 M178.7,483 v-9.6 M178.7,2 v9.2 M233.4,483 v-4.800000000000001 M233.4,2 v4.4 M288.2,483 v-9.6 M288.2,2 v9.2 M342.9,483 v-4.800000000000001 M342.9,2 v4.4 M397.7,483 v-9.6 M397.7,2 v9.2 M452.4,483 v-4.800000000000001 M452.4,2 v4.4 M507.2,483 v-9.6 M507.2,2 v9.2 M562.0,483 v-4.800000000000001 M562.0,2 v4.4 M616.7,483 v-9.6 M616.7,2 v9.2 M671.5,483 v-4.800000000000001 M671.5,2 v4.4 M71,439.6 h5 M726,439.6 h-5 M71,395.8 h9 M726,395.8 h-9 M71,352.0 h5 M726,352.0 h-5 M71,308.1 h9 M726,308.1 h-9 M71,264.2 h5 M726,264.2 h-5 M71,220.4 h9 M726,220.4 h-9 M71,176.6 h5 M726,176.6 h-5 M71,132.7 h9 M726,132.7 h-9 M71,88.9 h5 M726,88.9 h-5 M71,45.0 h9 M726,45.0 h-9" stroke="#111" stroke-width="2" fill="none"/>
<text x="69.2" y="513.3" font-size="18" font-weight="bold" text-anchor="middle" font-family="'Liberation Sans', Arial, Helvetica, sans-serif" fill="#111" stroke="#111" stroke-width="0.7" >1</text>
<text x="178.7" y="513.3" font-size="18" font-weight="bold" text-anchor="middle" font-family="'Liberation Sans', Arial, Helvetica, sans-serif" fill="#111" stroke="#111" stroke-width="0.7" >2</text>
<text x="288.2" y="513.3" font-size="18" font-weight="bold" text-anchor="middle" font-family="'Liberation Sans', Arial, Helvetica, sans-serif" fill="#111" stroke="#111" stroke-width="0.7" >3</text>
<text x="397.7" y="513.3" font-size="18" font-weight="bold" text-anchor="middle" font-family="'Liberation Sans', Arial, Helvetica, sans-serif" fill="#111" stroke="#111" stroke-width="0.7" >4</text>
<text x="507.2" y="513.3" font-size="18" font-weight="bold" text-anchor="middle" font-family="'Liberation Sans', Arial, Helvetica, sans-serif" fill="#111" stroke="#111" stroke-width="0.7" >5</text>
<text x="616.7" y="513.3" font-size="18" font-weight="bold" text-anchor="middle" font-family="'Liberation Sans', Arial, Helvetica, sans-serif" fill="#111" stroke="#111" stroke-width="0.7" >6</text>
<text x="726.2" y="513.3" font-size="18" font-weight="bold" text-anchor="middle" font-family="'Liberation Sans', Arial, Helvetica, sans-serif" fill="#111" stroke="#111" stroke-width="0.7" >7</text>
<text x="62" y="51.5" font-size="18.5" font-weight="bold" text-anchor="end" font-family="'Liberation Sans', Arial, Helvetica, sans-serif" fill="#111" stroke="#111" stroke-width="0.7" >15</text>
<text x="62" y="139.2" font-size="18.5" font-weight="bold" text-anchor="end" font-family="'Liberation Sans', Arial, Helvetica, sans-serif" fill="#111" stroke="#111" stroke-width="0.7" >10</text>
<text x="62" y="226.9" font-size="18.5" font-weight="bold" text-anchor="end" font-family="'Liberation Sans', Arial, Helvetica, sans-serif" fill="#111" stroke="#111" stroke-width="0.7" >5</text>
<text x="62" y="314.6" font-size="18.5" font-weight="bold" text-anchor="end" font-family="'Liberation Sans', Arial, Helvetica, sans-serif" fill="#111" stroke="#111" stroke-width="0.7" >0</text>
<text x="62" y="402.3" font-size="18.5" font-weight="bold" text-anchor="end" font-family="'Liberation Sans', Arial, Helvetica, sans-serif" fill="#111" stroke="#111" stroke-width="0.7" >-5</text>
<text x="62" y="490.0" font-size="18.5" font-weight="bold" text-anchor="end" font-family="'Liberation Sans', Arial, Helvetica, sans-serif" fill="#111" stroke="#111" stroke-width="0.7" >-10</text>
<text x="302.2" y="549.1" font-size="20" font-weight="bold" text-anchor="start" font-family="'Liberation Sans', Arial, Helvetica, sans-serif" textLength="196.5" lengthAdjust="spacing" fill="#111" stroke="#111" stroke-width="0.7" >Photon Energy (eV)</text>
<text transform="translate(15.6,385.6) rotate(-90)" x="0" y="0" font-size="22" font-weight="bold" font-family="'Liberation Sans', Arial, Helvetica, sans-serif" textLength="264.5" stroke="#111" stroke-width="0.45" lengthAdjust="spacingAndGlyphs" fill="#111">Pseudodielectric Function</text>
<text x="277.1" y="34.1" font-size="17.5" font-weight="bold" text-anchor="start" font-family="'Liberation Sans', Arial, Helvetica, sans-serif" textLength="137" lengthAdjust="spacing" fill="#111" stroke="#111" stroke-width="0.7" >Fib on a-C:H #8</text>
<circle cx="498.2" cy="26" r="3.7" fill="none" stroke="#4d5a56" stroke-width="1.5"/>
<path d="M499,55.6 L504.3,63.2 L493.7,63.2 Z" fill="none" stroke="#d0448e" stroke-width="1.6"/>
<path d="M476.3,101.1 H520" stroke="#3a4642" stroke-width="2.4" stroke-dasharray="8.3,9.6"/>
<path d="M476.3,142.6 H520" stroke="#d82a5e" stroke-width="2.5" stroke-dasharray="8.3,9.6"/>
<path d="M476.8,184.4 H522.4" stroke="#1e2422" stroke-width="2.4"/>
<path d="M476.8,225.1 H522.4" stroke="#de2a5c" stroke-width="2.6"/>
<text x="528.6" y="31.4" font-size="17" font-weight="bold" text-anchor="start" font-family="'Liberation Sans', Arial, Helvetica, sans-serif" textLength="88.5" lengthAdjust="spacing" fill="#111" stroke="#111" stroke-width="0.7" >Fib/a-C:H,</text>
<text x="622.0" y="31.4" font-size="17" font-weight="bold" text-anchor="start" font-family="'Liberation Sans', Arial, Helvetica, sans-serif" fill="#111" stroke="#111" stroke-width="0.7" >&lt;</text>
<text x="632.0" y="31.4" font-size="17" font-weight="normal" text-anchor="start" font-family="'Liberation Sans', Arial, Helvetica, sans-serif" fill="#111" stroke="#111" stroke-width="0.25" >ε</text>
<text x="642.0" y="38.1" font-size="13" font-weight="bold" text-anchor="start" font-family="'Liberation Sans', Arial, Helvetica, sans-serif" fill="#111" stroke="#111" stroke-width="0.4" >1</text>
<text x="649.0" y="31.4" font-size="17" font-weight="bold" text-anchor="start" font-family="'Liberation Sans', Arial, Helvetica, sans-serif" fill="#111" stroke="#111" stroke-width="0.7" >(</text>
<text x="654.6" y="31.4" font-size="17" font-weight="normal" text-anchor="start" font-family="'Liberation Sans', Arial, Helvetica, sans-serif" fill="#111" stroke="#111" stroke-width="0.25" >ω</text>
<text x="666.6" y="31.4" font-size="17" font-weight="bold" text-anchor="start" font-family="'Liberation Sans', Arial, Helvetica, sans-serif" fill="#111" stroke="#111" stroke-width="0.7" >)</text>
<text x="672.8" y="31.4" font-size="17" font-weight="bold" text-anchor="start" font-family="'Liberation Sans', Arial, Helvetica, sans-serif" fill="#111" stroke="#111" stroke-width="0.7" >&gt;</text>
<text x="685.4" y="25.0" font-size="13" font-weight="bold" text-anchor="start" font-family="'Liberation Sans', Arial, Helvetica, sans-serif" textLength="24" lengthAdjust="spacing" fill="#111" stroke="#111" stroke-width="0.4" >exp</text>
<text x="528.6" y="66.6" font-size="17" font-weight="bold" text-anchor="start" font-family="'Liberation Sans', Arial, Helvetica, sans-serif" textLength="88.5" lengthAdjust="spacing" fill="#111" stroke="#111" stroke-width="0.7" >Fib/a-C:H,</text>
<text x="622.0" y="66.6" font-size="17" font-weight="bold" text-anchor="start" font-family="'Liberation Sans', Arial, Helvetica, sans-serif" fill="#111" stroke="#111" stroke-width="0.7" >&lt;</text>
<text x="632.0" y="66.6" font-size="17" font-weight="normal" text-anchor="start" font-family="'Liberation Sans', Arial, Helvetica, sans-serif" fill="#111" stroke="#111" stroke-width="0.25" >ε</text>
<text x="642.0" y="73.3" font-size="13" font-weight="bold" text-anchor="start" font-family="'Liberation Sans', Arial, Helvetica, sans-serif" fill="#111" stroke="#111" stroke-width="0.4" >2</text>
<text x="649.0" y="66.6" font-size="17" font-weight="bold" text-anchor="start" font-family="'Liberation Sans', Arial, Helvetica, sans-serif" fill="#111" stroke="#111" stroke-width="0.7" >(</text>
<text x="654.6" y="66.6" font-size="17" font-weight="normal" text-anchor="start" font-family="'Liberation Sans', Arial, Helvetica, sans-serif" fill="#111" stroke="#111" stroke-width="0.25" >ω</text>
<text x="666.6" y="66.6" font-size="17" font-weight="bold" text-anchor="start" font-family="'Liberation Sans', Arial, Helvetica, sans-serif" fill="#111" stroke="#111" stroke-width="0.7" >)</text>
<text x="672.8" y="66.6" font-size="17" font-weight="bold" text-anchor="start" font-family="'Liberation Sans', Arial, Helvetica, sans-serif" fill="#111" stroke="#111" stroke-width="0.7" >&gt;</text>
<text x="685.4" y="60.199999999999996" font-size="13" font-weight="bold" text-anchor="start" font-family="'Liberation Sans', Arial, Helvetica, sans-serif" textLength="24" lengthAdjust="spacing" fill="#111" stroke="#111" stroke-width="0.4" >exp</text>
<text x="528.6" y="106.9" font-size="17" font-weight="bold" text-anchor="start" font-family="'Liberation Sans', Arial, Helvetica, sans-serif" textLength="88.5" lengthAdjust="spacing" fill="#111" stroke="#111" stroke-width="0.7" >Fib/a-C:H,</text>
<text x="622.0" y="106.9" font-size="17" font-weight="bold" text-anchor="start" font-family="'Liberation Sans', Arial, Helvetica, sans-serif" fill="#111" stroke="#111" stroke-width="0.7" >&lt;</text>
<text x="632.0" y="106.9" font-size="17" font-weight="normal" text-anchor="start" font-family="'Liberation Sans', Arial, Helvetica, sans-serif" fill="#111" stroke="#111" stroke-width="0.25" >ε</text>
<text x="642.0" y="113.60000000000001" font-size="13" font-weight="bold" text-anchor="start" font-family="'Liberation Sans', Arial, Helvetica, sans-serif" fill="#111" stroke="#111" stroke-width="0.4" >1</text>
<text x="649.0" y="106.9" font-size="17" font-weight="bold" text-anchor="start" font-family="'Liberation Sans', Arial, Helvetica, sans-serif" fill="#111" stroke="#111" stroke-width="0.7" >(</text>
<text x="654.6" y="106.9" font-size="17" font-weight="normal" text-anchor="start" font-family="'Liberation Sans', Arial, Helvetica, sans-serif" fill="#111" stroke="#111" stroke-width="0.25" >ω</text>
<text x="666.6" y="106.9" font-size="17" font-weight="bold" text-anchor="start" font-family="'Liberation Sans', Arial, Helvetica, sans-serif" fill="#111" stroke="#111" stroke-width="0.7" >)</text>
<text x="672.8" y="106.9" font-size="17" font-weight="bold" text-anchor="start" font-family="'Liberation Sans', Arial, Helvetica, sans-serif" fill="#111" stroke="#111" stroke-width="0.7" >&gt;</text>
<text x="685.4" y="100.5" font-size="13" font-weight="bold" text-anchor="start" font-family="'Liberation Sans', Arial, Helvetica, sans-serif" textLength="12.5" lengthAdjust="spacing" fill="#111" stroke="#111" stroke-width="0.4" >fit</text>
<text x="528.6" y="148.9" font-size="17" font-weight="bold" text-anchor="start" font-family="'Liberation Sans', Arial, Helvetica, sans-serif" textLength="88.5" lengthAdjust="spacing" fill="#111" stroke="#111" stroke-width="0.7" >Fib/a-C:H,</text>
<text x="622.0" y="148.9" font-size="17" font-weight="bold" text-anchor="start" font-family="'Liberation Sans', Arial, Helvetica, sans-serif" fill="#111" stroke="#111" stroke-width="0.7" >&lt;</text>
<text x="632.0" y="148.9" font-size="17" font-weight="normal" text-anchor="start" font-family="'Liberation Sans', Arial, Helvetica, sans-serif" fill="#111" stroke="#111" stroke-width="0.25" >ε</text>
<text x="642.0" y="155.6" font-size="13" font-weight="bold" text-anchor="start" font-family="'Liberation Sans', Arial, Helvetica, sans-serif" fill="#111" stroke="#111" stroke-width="0.4" >2</text>
<text x="649.0" y="148.9" font-size="17" font-weight="bold" text-anchor="start" font-family="'Liberation Sans', Arial, Helvetica, sans-serif" fill="#111" stroke="#111" stroke-width="0.7" >(</text>
<text x="654.6" y="148.9" font-size="17" font-weight="normal" text-anchor="start" font-family="'Liberation Sans', Arial, Helvetica, sans-serif" fill="#111" stroke="#111" stroke-width="0.25" >ω</text>
<text x="666.6" y="148.9" font-size="17" font-weight="bold" text-anchor="start" font-family="'Liberation Sans', Arial, Helvetica, sans-serif" fill="#111" stroke="#111" stroke-width="0.7" >)</text>
<text x="672.8" y="148.9" font-size="17" font-weight="bold" text-anchor="start" font-family="'Liberation Sans', Arial, Helvetica, sans-serif" fill="#111" stroke="#111" stroke-width="0.7" >&gt;</text>
<text x="685.4" y="142.5" font-size="13" font-weight="bold" text-anchor="start" font-family="'Liberation Sans', Arial, Helvetica, sans-serif" textLength="12.5" lengthAdjust="spacing" fill="#111" stroke="#111" stroke-width="0.4" >fit</text>
<text x="528.6" y="189.4" font-size="17" font-weight="bold" text-anchor="start" font-family="'Liberation Sans', Arial, Helvetica, sans-serif" textLength="54.8" lengthAdjust="spacing" fill="#111" stroke="#111" stroke-width="0.7" >a-C:H,</text>
<text x="589.6" y="189.4" font-size="17" font-weight="bold" text-anchor="start" font-family="'Liberation Sans', Arial, Helvetica, sans-serif" fill="#111" stroke="#111" stroke-width="0.7" >&lt;</text>
<text x="599.6" y="189.4" font-size="17" font-weight="normal" text-anchor="start" font-family="'Liberation Sans', Arial, Helvetica, sans-serif" fill="#111" stroke="#111" stroke-width="0.25" >ε</text>
<text x="609.6" y="196.1" font-size="13" font-weight="bold" text-anchor="start" font-family="'Liberation Sans', Arial, Helvetica, sans-serif" fill="#111" stroke="#111" stroke-width="0.4" >1</text>
<text x="616.6" y="189.4" font-size="17" font-weight="bold" text-anchor="start" font-family="'Liberation Sans', Arial, Helvetica, sans-serif" fill="#111" stroke="#111" stroke-width="0.7" >(</text>
<text x="622.2" y="189.4" font-size="17" font-weight="normal" text-anchor="start" font-family="'Liberation Sans', Arial, Helvetica, sans-serif" fill="#111" stroke="#111" stroke-width="0.25" >ω</text>
<text x="634.2" y="189.4" font-size="17" font-weight="bold" text-anchor="start" font-family="'Liberation Sans', Arial, Helvetica, sans-serif" fill="#111" stroke="#111" stroke-width="0.7" >)</text>
<text x="640.4" y="189.4" font-size="17" font-weight="bold" text-anchor="start" font-family="'Liberation Sans', Arial, Helvetica, sans-serif" fill="#111" stroke="#111" stroke-width="0.7" >&gt;</text>
<text x="653.0" y="183.0" font-size="13" font-weight="bold" text-anchor="start" font-family="'Liberation Sans', Arial, Helvetica, sans-serif" textLength="24" lengthAdjust="spacing" fill="#111" stroke="#111" stroke-width="0.4" >exp</text>
<text x="528.6" y="228.8" font-size="17" font-weight="bold" text-anchor="start" font-family="'Liberation Sans', Arial, Helvetica, sans-serif" textLength="54.8" lengthAdjust="spacing" fill="#111" stroke="#111" stroke-width="0.7" >a-C:H,</text>
<text x="589.6" y="228.8" font-size="17" font-weight="bold" text-anchor="start" font-family="'Liberation Sans', Arial, Helvetica, sans-serif" fill="#111" stroke="#111" stroke-width="0.7" >&lt;</text>
<text x="599.6" y="228.8" font-size="17" font-weight="normal" text-anchor="start" font-family="'Liberation Sans', Arial, Helvetica, sans-serif" fill="#111" stroke="#111" stroke-width="0.25" >ε</text>
<text x="609.6" y="235.5" font-size="13" font-weight="bold" text-anchor="start" font-family="'Liberation Sans', Arial, Helvetica, sans-serif" fill="#111" stroke="#111" stroke-width="0.4" >2</text>
<text x="616.6" y="228.8" font-size="17" font-weight="bold" text-anchor="start" font-family="'Liberation Sans', Arial, Helvetica, sans-serif" fill="#111" stroke="#111" stroke-width="0.7" >(</text>
<text x="622.2" y="228.8" font-size="17" font-weight="normal" text-anchor="start" font-family="'Liberation Sans', Arial, Helvetica, sans-serif" fill="#111" stroke="#111" stroke-width="0.25" >ω</text>
<text x="634.2" y="228.8" font-size="17" font-weight="bold" text-anchor="start" font-family="'Liberation Sans', Arial, Helvetica, sans-serif" fill="#111" stroke="#111" stroke-width="0.7" >)</text>
<text x="640.4" y="228.8" font-size="17" font-weight="bold" text-anchor="start" font-family="'Liberation Sans', Arial, Helvetica, sans-serif" fill="#111" stroke="#111" stroke-width="0.7" >&gt;</text>
<text x="653.0" y="222.4" font-size="13" font-weight="bold" text-anchor="start" font-family="'Liberation Sans', Arial, Helvetica, sans-serif" textLength="24" lengthAdjust="spacing" fill="#111" stroke="#111" stroke-width="0.4" >exp</text>
</g>
</svg>
</body></html>
